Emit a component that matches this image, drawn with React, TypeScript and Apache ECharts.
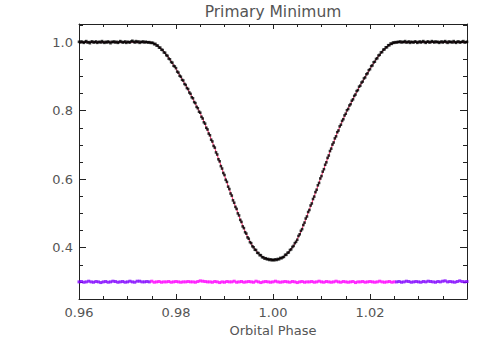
import React, { useEffect, useRef } from "react";
import * as echarts from "echarts";

const TITLE = "Primary Minimum";
const X_NAME = "Orbital Phase";

// Observed light curve: phase = OBS_START + i * OBS_STEP
const OBS_START = 0.96;
const OBS_STEP = 0.00025;
const obsFlux = [
  1.001, 0.999, 1.002, 1.000, 0.998, 1.001, 1.003, 0.999, 1.000, 0.997, 1.001, 1.002, 0.999, 1.000, 1.002, 0.998, 1.000, 1.001, 0.999, 1.003,
  1.000, 0.998, 1.001, 0.999, 1.002, 1.000, 0.997, 1.001, 1.000, 1.002, 0.999, 1.001, 0.998, 1.000, 1.003, 1.001, 0.999, 1.000, 1.002, 0.998,
  1.001, 1.000, 0.999, 1.002, 1.004, 1.001, 0.999, 1.003, 1.000, 1.002, 0.998, 1.001, 1.000, 1.002, 0.999, 1.001, 1.000, 0.999, 1.000, 0.998,
  0.998, 0.998, 0.994, 0.995, 0.990, 0.990, 0.984, 0.984, 0.978, 0.977, 0.970, 0.969, 0.962, 0.960, 0.952, 0.950, 0.942, 0.940, 0.931, 0.929,
  0.924, 0.914, 0.911, 0.902, 0.899, 0.890, 0.888, 0.878, 0.875, 0.866, 0.863, 0.853, 0.849, 0.839, 0.836, 0.825, 0.822, 0.811, 0.807, 0.797,
  0.794, 0.782, 0.777, 0.766, 0.762, 0.750, 0.745, 0.733, 0.728, 0.715, 0.710, 0.697, 0.692, 0.678, 0.672, 0.658, 0.652, 0.638, 0.631, 0.618,
  0.612, 0.598, 0.592, 0.578, 0.571, 0.558, 0.552, 0.538, 0.531, 0.519, 0.513, 0.500, 0.494, 0.481, 0.475, 0.462, 0.457, 0.445, 0.441, 0.430,
  0.426, 0.416, 0.413, 0.404, 0.401, 0.394, 0.393, 0.385, 0.384, 0.378, 0.378, 0.372, 0.372, 0.368, 0.369, 0.366, 0.367, 0.364, 0.366, 0.363,
  0.365, 0.363, 0.366, 0.364, 0.367, 0.366, 0.370, 0.369, 0.372, 0.373, 0.379, 0.379, 0.385, 0.386, 0.393, 0.395, 0.402, 0.405, 0.413, 0.417,
  0.423, 0.434, 0.439, 0.449, 0.454, 0.466, 0.473, 0.485, 0.491, 0.504, 0.510, 0.523, 0.529, 0.542, 0.549, 0.562, 0.569, 0.582, 0.589, 0.602,
  0.609, 0.622, 0.629, 0.642, 0.649, 0.662, 0.669, 0.682, 0.689, 0.701, 0.707, 0.719, 0.725, 0.737, 0.742, 0.754, 0.759, 0.770, 0.775, 0.786,
  0.791, 0.801, 0.805, 0.815, 0.819, 0.829, 0.833, 0.843, 0.847, 0.857, 0.860, 0.870, 0.873, 0.882, 0.885, 0.894, 0.897, 0.906, 0.909, 0.918,
  0.921, 0.930, 0.932, 0.941, 0.943, 0.951, 0.953, 0.961, 0.963, 0.970, 0.971, 0.978, 0.979, 0.985, 0.985, 0.991, 0.991, 0.996, 0.995, 0.999,
  0.998, 1.000, 0.999, 1.001, 1.000, 1.002, 0.999, 1.001, 1.000, 1.003, 0.999, 1.000, 1.002, 0.998, 1.001, 1.000, 0.999, 1.002, 1.001, 0.998,
  1.000, 1.002, 0.999, 1.001, 1.003, 1.000, 0.998, 1.001, 1.002, 0.999, 1.000, 1.003, 1.001, 0.999, 1.002, 1.000, 1.001, 0.998, 1.000, 1.002,
  0.999, 1.001, 1.003, 1.000, 0.998, 1.002, 1.000, 1.001, 0.999, 1.003, 1.000, 0.998, 1.001, 1.002, 0.999, 1.000, 1.001, 1.003, 0.999, 1.000,
  1.001,
];

// Model light curve: phase = MODEL_START + i * MODEL_STEP
const MODEL_START = 0.96;
const MODEL_STEP = 0.001;
const modelFlux = [
  1.0, 1.0, 1.0, 1.0, 1.0, 1.0, 1.0, 1.0, 1.0, 1.0, 1.0, 1.0, 1.0, 1.0, 1.0,
  0.999, 0.992, 0.980, 0.964, 0.944, 0.922, 0.898, 0.874, 0.848, 0.820,
  0.792, 0.760, 0.726, 0.690, 0.650, 0.610, 0.570, 0.530, 0.492, 0.455,
  0.424, 0.400, 0.383, 0.371, 0.366, 0.364, 0.366, 0.371, 0.383, 0.400,
  0.424, 0.455, 0.492, 0.530, 0.570, 0.610, 0.650, 0.690, 0.726, 0.760,
  0.792, 0.820, 0.848, 0.874, 0.898, 0.922, 0.944, 0.964, 0.980, 0.992,
  0.999,
  1.0, 1.0, 1.0, 1.0, 1.0, 1.0, 1.0, 1.0, 1.0, 1.0, 1.0, 1.0, 1.0, 1.0, 1.0,
];

// Residuals (offset to 0.30): phase = RES_START + i * RES_STEP
const RES_START = 0.96;
const RES_STEP = 0.0005;
const residuals = [
  0.300, 0.301, 0.299, 0.300, 0.302, 0.300, 0.299, 0.301, 0.300, 0.298, 0.300, 0.301, 0.299, 0.300, 0.302, 0.301, 0.299, 0.300, 0.301, 0.299,
  0.300, 0.302, 0.300, 0.299, 0.302, 0.302, 0.300, 0.300, 0.301, 0.300, 0.302, 0.299, 0.300, 0.301, 0.299, 0.300, 0.300, 0.301, 0.299, 0.300,
  0.301, 0.300, 0.299, 0.300, 0.300, 0.301, 0.300, 0.300, 0.299, 0.301, 0.303, 0.302, 0.301, 0.300, 0.300, 0.299, 0.301, 0.300, 0.298, 0.300,
  0.299, 0.301, 0.300, 0.300, 0.302, 0.299, 0.300, 0.301, 0.299, 0.300, 0.301, 0.300, 0.299, 0.302, 0.300, 0.298, 0.300, 0.301, 0.300, 0.299,
  0.300, 0.302, 0.300, 0.299, 0.300, 0.301, 0.300, 0.299, 0.301, 0.300, 0.298, 0.300, 0.301, 0.299, 0.300, 0.300, 0.301, 0.299, 0.300, 0.302,
  0.300, 0.299, 0.301, 0.300, 0.299, 0.300, 0.302, 0.300, 0.299, 0.301, 0.300, 0.299, 0.300, 0.301, 0.298, 0.300, 0.300, 0.301, 0.299, 0.300,
  0.301, 0.300, 0.299, 0.300, 0.302, 0.300, 0.299, 0.300, 0.301, 0.299, 0.300, 0.300, 0.301, 0.299, 0.300, 0.302, 0.301, 0.299, 0.300, 0.301,
  0.300, 0.299, 0.301, 0.300, 0.302, 0.301, 0.300, 0.299, 0.301, 0.300, 0.302, 0.303, 0.300, 0.301, 0.300, 0.299, 0.301, 0.303, 0.301, 0.300,
  0.301,
];

const ECLIPSE_START = 0.975;
const ECLIPSE_END = 1.025;

const FONT = "DejaVu Sans";
const TEXT_COLOR = "#555";
const AXIS_COLOR = "#222";

const ph = (start: number, step: number, i: number) => +(start + i * step).toFixed(5);

export default function App() {
  const ref = useRef<HTMLDivElement>(null);
  useEffect(() => {
    if (!ref.current) return;
    const chart = echarts.init(ref.current, undefined, { renderer: "svg" });
    const lineStyle = { color: AXIS_COLOR, width: 1 };
    const xBase = {
      type: "value" as const,
      min: 0.96,
      max: 1.04,
      interval: 0.02,
      axisLine: { show: true, onZero: false, lineStyle },
      axisTick: { show: true, inside: true, length: 5, lineStyle },
      minorTick: { show: true, splitNumber: 4, length: 3, lineStyle },
      splitLine: { show: false },
      minorSplitLine: { show: false },
    };
    const yBase = {
      type: "value" as const,
      min: 0.25,
      max: 1.053,
      axisLine: { show: true, onZero: false, lineStyle },
      axisTick: { show: true, inside: true, length: 7, lineStyle },
      minorTick: { show: true, splitNumber: 4, length: 4, lineStyle },
      splitLine: { show: false },
      minorSplitLine: { show: false },
    };
    chart.setOption({
      animation: false,
      backgroundColor: "#fff",
      title: {
        text: TITLE,
        left: 273,
        top: 4,
        padding: 0,
        textAlign: "center",
        textStyle: { fontSize: 15.5, fontWeight: "normal", color: TEXT_COLOR, fontFamily: FONT },
      },
      grid: { left: 79, right: 24, top: 24, bottom: 51, containLabel: false },
      xAxis: [
        {
          ...xBase,
          position: "bottom",
          name: X_NAME,
          nameLocation: "middle",
          nameGap: 24,
          nameTextStyle: { fontSize: 13, color: TEXT_COLOR, fontFamily: FONT },
          axisLabel: {
            formatter: (v: number) => v.toFixed(2),
            showMaxLabel: false,
            margin: 7,
            fontSize: 13,
            color: TEXT_COLOR,
            fontFamily: FONT,
          },
        },
        { ...xBase, position: "top", axisLabel: { show: false } },
      ],
      yAxis: [
        {
          ...yBase,
          position: "left",
          axisLabel: {
            formatter: (v: number) => v.toFixed(1),
            showMinLabel: false,
            showMaxLabel: false,
            margin: 6,
            fontSize: 13,
            color: TEXT_COLOR,
            fontFamily: FONT,
          },
        },
        { ...yBase, position: "right", axisLabel: { show: false } },
      ],
      series: [
        {
          type: "line",
          xAxisIndex: 0,
          yAxisIndex: 0,
          data: modelFlux.map((v, i) => [ph(MODEL_START, MODEL_STEP, i), v]),
          showSymbol: false,
          lineStyle: { color: "#ff2a6a", width: 1 },
          z: 2,
        },
        {
          type: "scatter",
          xAxisIndex: 0,
          yAxisIndex: 0,
          data: obsFlux.map((v, i) => [ph(OBS_START, OBS_STEP, i), v]),
          symbol: "rect",
          symbolSize: 2.6,
          itemStyle: { color: "#000" },
          z: 3,
        },
        {
          type: "scatter",
          xAxisIndex: 0,
          yAxisIndex: 0,
          data: residuals.map((v, i) => {
            const p = ph(RES_START, RES_STEP, i);
            const inEclipse = p >= ECLIPSE_START && p <= ECLIPSE_END;
            return { value: [p, v], itemStyle: { color: inEclipse ? "#ff00ff" : "#8000ff" } };
          }),
          symbol: "rect",
          symbolSize: 3,
          z: 3,
        },
      ],
    });
    return () => chart.dispose();
  }, []);
  return (
    <div
      ref={ref}
      style={{ position: "fixed", left: 0, top: 0, width: 491, height: 350, background: "#fff" }}
    />
  );
}
